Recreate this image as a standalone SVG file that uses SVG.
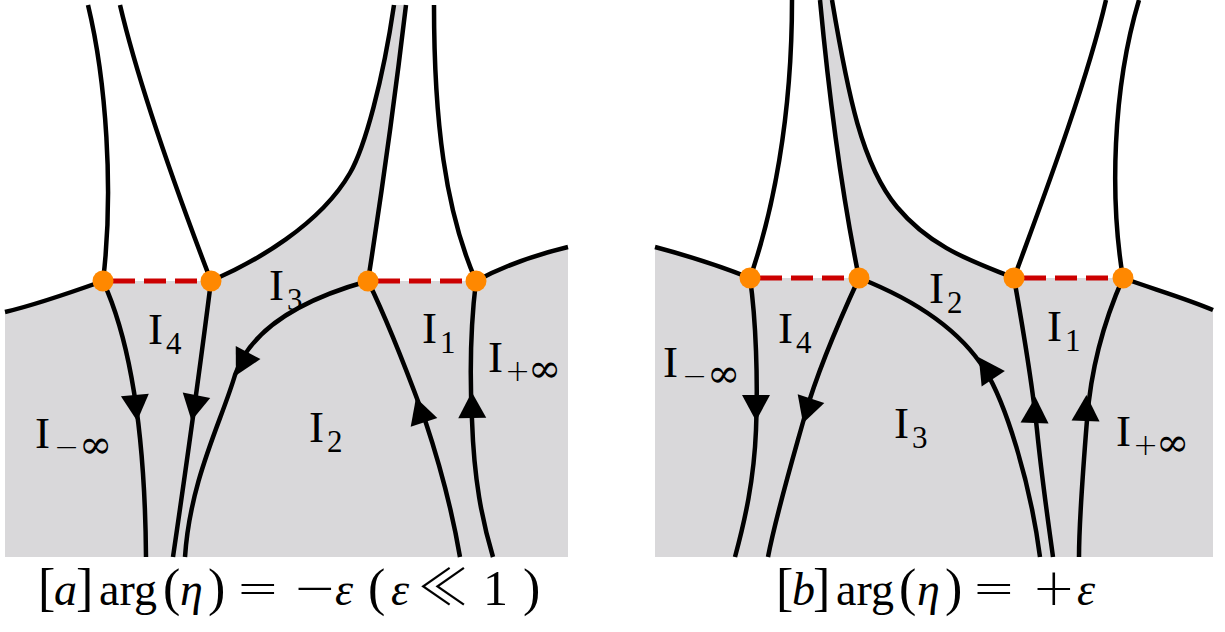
<svg xmlns="http://www.w3.org/2000/svg" xmlns:xlink="http://www.w3.org/1999/xlink" width="1225" height="632" viewBox="0 0 1225 632">
<style>
.bg{fill:#d9d8da;stroke:none}
.ln{fill:none;stroke:#000;stroke-width:4.5;stroke-linecap:butt;stroke-linejoin:round}
.cut{fill:none;stroke:#cc0000;stroke-width:5;stroke-dasharray:22 9}
.dot{fill:#ff8800}
.ah{fill:#000}
.lbl{font-family:"Liberation Serif","DejaVu Serif",serif;font-size:45px;fill:#000}
.sub{font-family:"Liberation Serif","DejaVu Serif",serif;font-size:31px}
.op{font-family:"DejaVu Sans","DejaVu Serif",sans-serif;font-weight:200;font-size:30px}
.inf{font-family:"DejaVu Sans","DejaVu Serif",sans-serif;font-weight:200;font-size:40px}
.cap{font-family:"Liberation Serif","DejaVu Serif",serif;font-size:46px;fill:#000}
.it{font-style:italic}
.br{font-size:52px}
.mop{font-family:"DejaVu Sans","DejaVu Serif",sans-serif;font-weight:200;font-size:52px}
.ll{font-family:"Noto Sans CJK JP","DejaVu Sans",sans-serif;font-weight:300;font-size:50px}
</style>
<defs>
<path id="arrow" d="M13,0 L-13,-14 L-13,14 Z"/>
</defs>
<rect width="1225" height="632" fill="#fff"/>
<g id="regions">
<path class="bg" d="M5,312 C35,305 75,291 103,281 L211,281 C255,262 320,225 350,173 C365,147 383,80 394,5 L406,5 Q390,140 368,281 L476,281 C500,268 535,255 568,247 L568,557 L5,557 Z"/>
<path class="bg" d="M655,247 C685,255 720,266 750,278 L859,278 Q835,160 820,0 L832,0 C848,95 862,165 897,207 C932,249 975,262 1014,278 L1123,278 C1150,288 1185,298 1213,310 L1213,557 L655,557 Z"/>
</g>
<g id="connectors">
<path class="ln" d="M5,312 C35,305 75,291 103,281"/>
<path class="ln" d="M88,5 C106,80 114,190 103,281"/>
<path class="ln" d="M120,5 C140,90 180,200 211,281"/>
<path class="ln" d="M211,281 C255,262 320,225 350,173 C365,147 383,80 394,5"/>
<path class="ln" d="M406,5 Q390,140 368,281"/>
<path class="ln" d="M434,5 C434,120 445,210 476,281"/>
<path class="ln" d="M476,281 C500,268 535,255 568,247"/>
<path class="ln" d="M103,281 C130,340 145,430 146,557"/>
<path class="ln" d="M211,281 Q196,400 173,557"/>
<path class="ln" d="M368,281 C300,300 250,330 235,375 C222,420 190,480 185,557"/>
<path class="ln" d="M368,281 C392,330 412,385 425,420 C440,465 452,510 460,557"/>
<path class="ln" d="M476,281 C470,330 470,380 472,420 C474,480 482,520 493,557"/>
<line class="cut" x1="113" y1="281" x2="211" y2="281"/>
<line class="cut" x1="378" y1="281" x2="476" y2="281"/>
<use href="#arrow" class="ah" transform="translate(136,408) rotate(85)"/>
<use href="#arrow" class="ah" transform="translate(194,408) rotate(101)"/>
<use href="#arrow" class="ah" transform="translate(242,364) rotate(118)"/>
<use href="#arrow" class="ah" transform="translate(420,410) rotate(-108)"/>
<use href="#arrow" class="ah" transform="translate(472,405) rotate(-91)"/>
<path class="ln" d="M655,247 C685,255 720,266 750,278"/>
<path class="ln" d="M750,278 C772,215 792,120 792,0"/>
<path class="ln" d="M859,278 Q835,160 820,0"/>
<path class="ln" d="M832,0 C848,95 862,165 897,207 C932,249 975,262 1014,278"/>
<path class="ln" d="M1014,278 C1035,220 1085,90 1106,0"/>
<path class="ln" d="M1123,278 C1110,200 1112,90 1139,0"/>
<path class="ln" d="M1123,278 C1150,288 1185,298 1213,310"/>
<path class="ln" d="M750,278 C756,320 758,380 756,430 C754,480 745,520 735,557"/>
<path class="ln" d="M859,278 C835,330 815,380 805,415 C793,458 776,515 768,557"/>
<path class="ln" d="M859,278 C915,300 960,330 985,370 C1005,402 1030,480 1040,557"/>
<path class="ln" d="M1014,278 C1025,340 1033,390 1037,430 C1042,480 1048,520 1053,557"/>
<path class="ln" d="M1123,278 C1100,330 1090,380 1087,420 C1083,470 1079,520 1079,557"/>
<line class="cut" x1="760" y1="278" x2="859" y2="278"/>
<line class="cut" x1="1024" y1="278" x2="1123" y2="278"/>
<use href="#arrow" class="ah" transform="translate(756,408) rotate(90)"/>
<use href="#arrow" class="ah" transform="translate(807,411) rotate(108)"/>
<use href="#arrow" class="ah" transform="translate(986,368) rotate(-124)"/>
<use href="#arrow" class="ah" transform="translate(1035,410) rotate(-88)"/>
<use href="#arrow" class="ah" transform="translate(1086,408) rotate(-88)"/>
</g>
<g id="node-a1"><circle class="dot" cx="103" cy="281" r="10.5"/></g>
<g id="node-a2"><circle class="dot" cx="211" cy="281" r="10.5"/></g>
<g id="node-a3"><circle class="dot" cx="368" cy="281" r="10.5"/></g>
<g id="node-a4"><circle class="dot" cx="476" cy="281" r="10.5"/></g>
<g id="node-b1"><circle class="dot" cx="750" cy="278" r="10.5"/></g>
<g id="node-b2"><circle class="dot" cx="859" cy="278" r="10.5"/></g>
<g id="node-b3"><circle class="dot" cx="1014" cy="278" r="10.5"/></g>
<g id="node-b4"><circle class="dot" cx="1123" cy="278" r="10.5"/></g>
<g id="labels-a">
<text class="lbl" x="269" y="300">I<tspan class="sub" x="287" y="310">3</tspan></text>
<text class="lbl" x="148" y="344">I<tspan class="sub" x="166" y="354">4</tspan></text>
<text class="lbl" x="422" y="343">I<tspan class="sub" x="440" y="353">1</tspan></text>
<text class="lbl" x="488" y="372">I<tspan class="op" x="505" y="381">+</tspan><tspan class="inf" x="528" y="382">∞</tspan></text>
<text class="lbl" x="35" y="448">I<tspan class="op" x="54" y="457">−</tspan><tspan class="inf" x="79" y="458">∞</tspan></text>
<text class="lbl" x="309" y="442">I<tspan class="sub" x="327" y="452">2</tspan></text>
</g>
<g id="labels-b">
<text class="lbl" x="663" y="377">I<tspan class="op" x="682" y="386">−</tspan><tspan class="inf" x="707" y="387">∞</tspan></text>
<text class="lbl" x="778" y="343">I<tspan class="sub" x="796" y="353">4</tspan></text>
<text class="lbl" x="929" y="303">I<tspan class="sub" x="947" y="313">2</tspan></text>
<text class="lbl" x="1047" y="341">I<tspan class="sub" x="1065" y="351">1</tspan></text>
<text class="lbl" x="894" y="438">I<tspan class="sub" x="912" y="448">3</tspan></text>
<text class="lbl" x="1116" y="446">I<tspan class="op" x="1133" y="455">+</tspan><tspan class="inf" x="1156" y="456">∞</tspan></text>
</g>
<g id="captions">
<text class="cap" y="605"><tspan class="br" x="38">[</tspan><tspan class="it" x="54">a</tspan><tspan class="br" x="76">]</tspan><tspan x="99">arg</tspan><tspan class="br" x="163">(</tspan><tspan class="it" x="180">η</tspan><tspan class="br" x="208">)</tspan><tspan class="mop" x="236">=</tspan><tspan class="mop" x="293">−</tspan><tspan class="it" x="335">ε</tspan><tspan class="br" x="368">(</tspan><tspan class="it" x="391">ε</tspan><tspan class="ll" x="418">≪</tspan><tspan style="font-size:50px" x="483">1</tspan><tspan class="br" x="523">)</tspan></text>
<text class="cap" y="605"><tspan class="br" x="776">[</tspan><tspan class="it" x="792">b</tspan><tspan class="br" x="813">]</tspan><tspan x="836">arg</tspan><tspan class="br" x="899">(</tspan><tspan class="it" x="917">η</tspan><tspan class="br" x="945">)</tspan><tspan class="mop" x="972">=</tspan><tspan class="mop" x="1032">+</tspan><tspan class="it" x="1077">ε</tspan></text>
</g>
</svg>
